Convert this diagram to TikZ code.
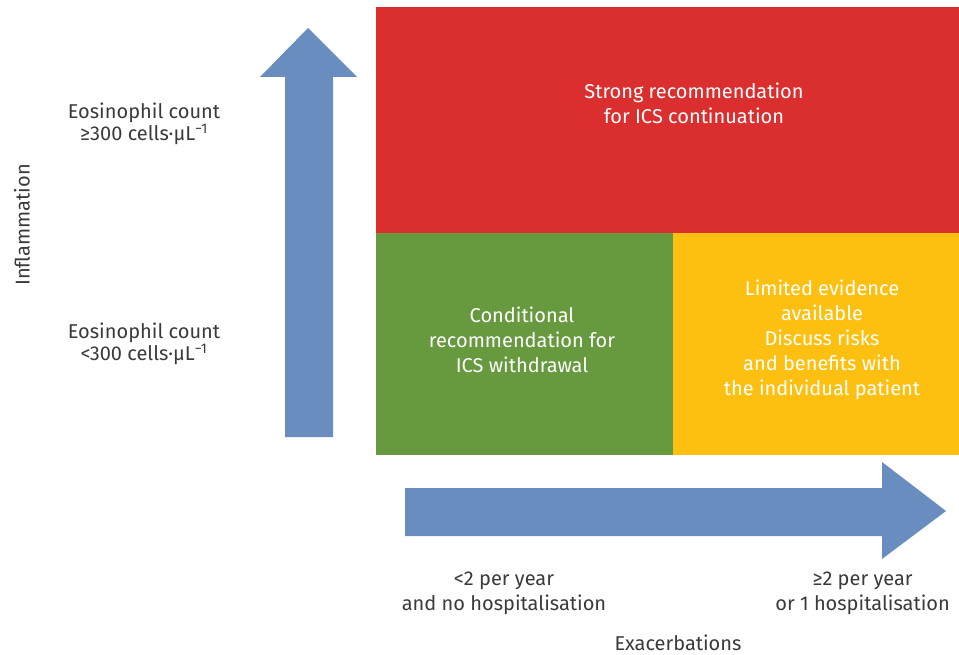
\documentclass[tikz,border=0pt]{standalone}
\usepackage{fontspec}
\setmainfont{Fira Sans}
\definecolor{cred}{HTML}{DA2F2E}
\definecolor{cgreen}{HTML}{67993F}
\definecolor{cyellow}{HTML}{FDC010}
\definecolor{cblue}{HTML}{6A8DC0}
\definecolor{ctext}{HTML}{3A3A3A}
\begin{document}
\begin{tikzpicture}[x=1pt,y=-1pt,
  cell/.style={draw=none, inner sep=0pt, anchor=north west, text=white, align=center,
    font=\fontsize{20}{25}\selectfont},
  lbl/.style={inner sep=0pt, text=ctext, align=center, font=\fontsize{20}{25}\selectfont},
  eos/.style={lbl, font=\fontsize{20}{22}\selectfont},
  bigarrow/.style={fill=cblue, draw=none}]
\useasboundingbox (0,0) rectangle (959,655);
% cells
\node[cell, fill=cred, minimum width=583pt, minimum height=226pt] (red) at (376,7) {};
\node[cell, fill=cgreen, minimum width=297pt, minimum height=222pt] (green) at (376,233) {};
\node[cell, fill=cyellow, minimum width=286pt, minimum height=222pt] (yellow) at (673,233) {};
\node[lbl, text=white] (redt) at (694,103) {Strong recommendation\\for ICS continuation};
\node[lbl, text=white] (greent) at (522,340) {Conditional\\recommendation for\\ICS withdrawal};
\node[lbl, text=white] (yellowt) at (822,340) {Limited evidence\\available\\Discuss risks\\and benefits with\\the individual patient};
% arrows
\path[bigarrow] (285,437) -- (285,77) -- (260,77) -- (308,28) -- (357,77) -- (333,77) -- (333,437) -- cycle;
\path[bigarrow] (405,488) -- (882,488) -- (882,462) -- (946,511) -- (882,559) -- (882,536) -- (405,536) -- cycle;
% labels
\node[eos] (eoshigh) at (144,124) {Eosinophil count\\≥300 cells·μL\textsuperscript{−1}};
\node[eos] (eoslow) at (144,344) {Eosinophil count\\<300 cells·μL\textsuperscript{−1}};
\node[lbl, rotate=90] (infl) at (22,225) {Inflammation};
\node[lbl] (low) at (504,593) {<2 per year\\and no hospitalisation};
\node[lbl, anchor=east] (high) at (950,593) {≥2 per year\\or 1 hospitalisation};
\node[lbl] (exac) at (678,643) {Exacerbations};
\end{tikzpicture}
\end{document}
